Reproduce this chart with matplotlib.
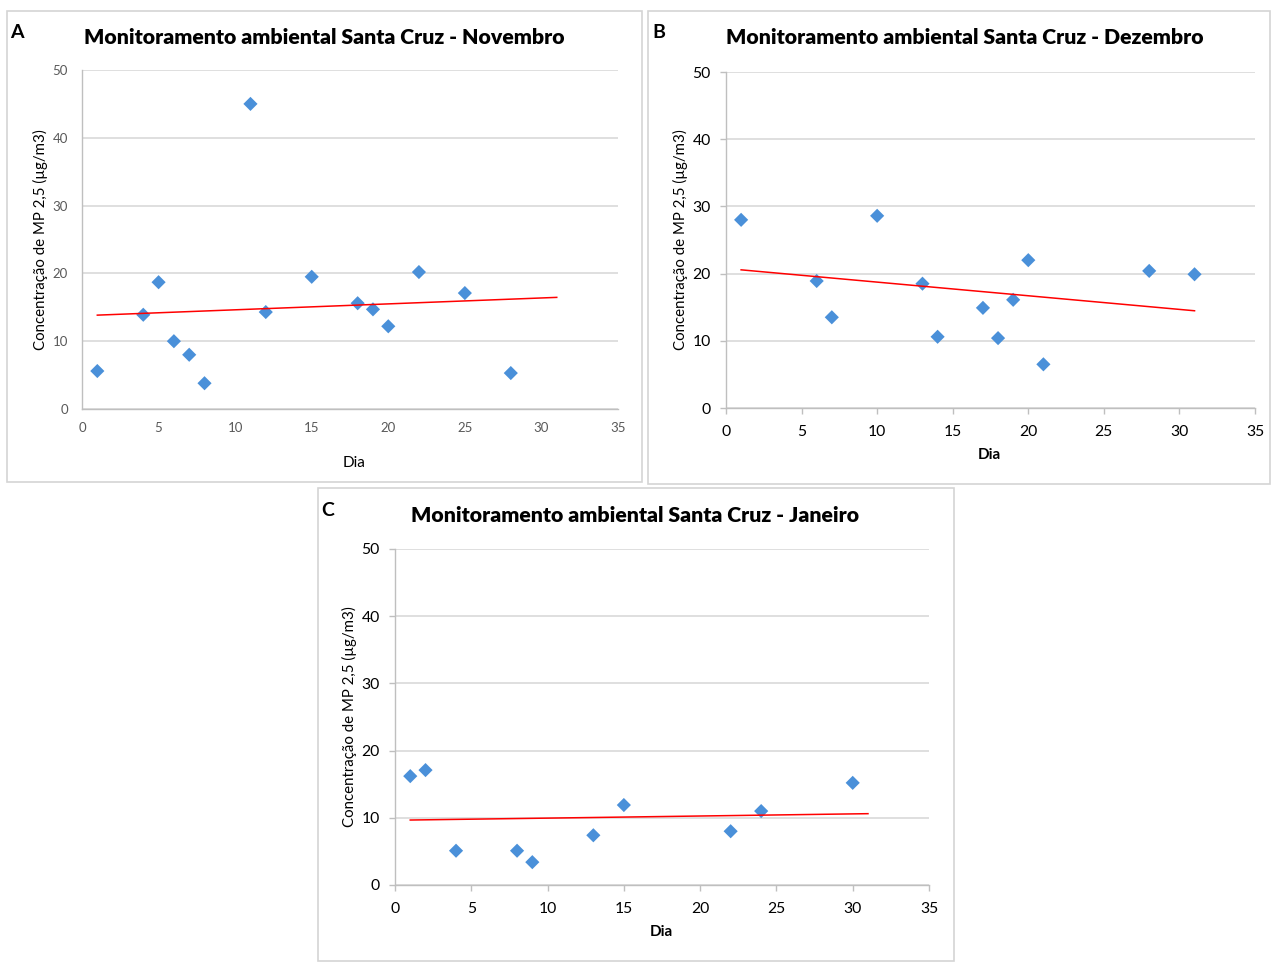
import numpy as np
import matplotlib
matplotlib.use("Agg")
import matplotlib.pyplot as plt
from matplotlib.patches import Rectangle

# ---------------- data ----------------
titles = ["Monitoramento ambiental Santa Cruz - Novembro",
          "Monitoramento ambiental Santa Cruz - Dezembro",
          "Monitoramento ambiental Santa Cruz - Janeiro"]
panel_letters = ["A", "B", "C"]
ylabel_text = "Concentração de MP 2,5 (µg/m3)"
xlabel_text = "Dia"

nov_days = [1, 4, 5, 6, 7, 8, 11, 12, 15, 18, 19, 20, 22, 25, 28]
nov_vals = [5.6, 13.9, 18.7, 10.0, 8.0, 3.8, 45.0, 14.3, 19.5, 15.6, 14.7, 12.2, 20.2, 17.1, 5.3]

dez_days = [1, 6, 7, 10, 13, 14, 17, 18, 19, 20, 21, 28, 31]
dez_vals = [28.0, 18.9, 13.5, 28.6, 18.5, 10.6, 14.9, 10.4, 16.1, 22.0, 6.5, 20.4, 19.9]

jan_days = [1, 2, 4, 8, 9, 13, 15, 22, 24, 30]
jan_vals = [16.2, 17.1, 5.1, 5.1, 3.4, 7.4, 11.9, 8.0, 11.0, 15.2]

trend_span = [1, 31]
x_ticks = [0, 5, 10, 15, 20, 25, 30, 35]
y_ticks = [0, 10, 20, 30, 40, 50]

# ---------------- layout ----------------
W, H = 1271, 966
fig = plt.figure(figsize=(W / 100, H / 100), dpi=100)
fig.patch.set_facecolor("white")

def fx(px):
    return px / W

def fy(py):
    return 1 - py / H

FONT = "Lato"
BLUE = "#4A90D9"
GRID = "#D9D9D9"

# frames (pixel boxes)
frames = [(7, 11, 642, 482), (648, 11, 1270, 484), (318, 488, 954, 961)]
for (x0, y0, x1, y1) in frames:
    fig.patches.append(Rectangle((fx(x0), fy(y1)), fx(x1 - x0), (y1 - y0) / H,
                                 transform=fig.transFigure, fill=False,
                                 edgecolor="#D4D4D4", linewidth=1.2))

plot_boxes = [(82, 70, 618, 409), (726, 72, 1255, 408), (395, 549, 929, 885)]
datasets = [(nov_days, nov_vals), (dez_days, dez_vals), (jan_days, jan_vals)]
title_pos = [(324, 37), (965, 38), (635, 516)]
letter_pos = [(17, 33), (659, 33), (328, 510)]
ylab_pos = [(40, 240), (680, 240), (349, 717)]
xlab_pos = [(354, 463), (989, 455), (661, 932)]
tick_style = [dict(color="#595959", size=9.5), dict(color="black", size=11.3), dict(color="black", size=11.3)]
tick_len = [0, 4, 4]
xpad = [9, 8, 8]
ypad = [10, 7, 7]
xlab_bold = [False, True, True]

for i in range(3):
    x0, y0, x1, y1 = plot_boxes[i]
    ax = fig.add_axes([fx(x0), fy(y1), fx(x1 - x0), (y1 - y0) / H])
    days, vals = datasets[i]
    ax.set_xlim(0, 35)
    ax.set_ylim(0, 50)
    ax.set_xticks(x_ticks)
    ax.set_yticks(y_ticks)
    ax.grid(axis="y", color=GRID, linewidth=1.2)
    ax.set_axisbelow(True)
    for s in ["top", "right"]:
        ax.spines[s].set_visible(False)
    for s in ["left", "bottom"]:
        ax.spines[s].set_color("#BFBFBF")
        ax.spines[s].set_linewidth(1.0)
    ax.tick_params(axis="both", direction="out", length=tick_len[i], width=1, color="#BFBFBF",
                   labelsize=tick_style[i]["size"], labelcolor=tick_style[i]["color"])
    ax.tick_params(axis="x", pad=xpad[i])
    ax.tick_params(axis="y", pad=ypad[i])
    for lab in ax.get_xticklabels() + ax.get_yticklabels():
        lab.set_family(FONT)

    ax.scatter(days, vals, marker="D", s=52, color=BLUE, edgecolors="none", zorder=3)

    coef = np.polyfit(days, vals, 1)
    tx = np.array(trend_span, dtype=float)
    ax.plot(tx, np.polyval(coef, tx), color="#FF0000", linewidth=1.1, zorder=4)

    fig.text(fx(title_pos[i][0]), fy(title_pos[i][1]), titles[i], ha="center", va="center",
             fontsize=15.3, fontweight="heavy", family=FONT)
    fig.text(fx(letter_pos[i][0]), fy(letter_pos[i][1]), panel_letters[i], ha="center", va="center",
             fontsize=14, fontweight="bold", family=FONT)
    fig.text(fx(ylab_pos[i][0]), fy(ylab_pos[i][1]), ylabel_text, ha="center", va="center",
             rotation=90, fontsize=10.8, family=FONT)
    fig.text(fx(xlab_pos[i][0]), fy(xlab_pos[i][1]), xlabel_text, ha="center", va="center",
             fontsize=11, fontweight="bold" if xlab_bold[i] else "normal", family=FONT)

fig.savefig("out.png", dpi=100)
